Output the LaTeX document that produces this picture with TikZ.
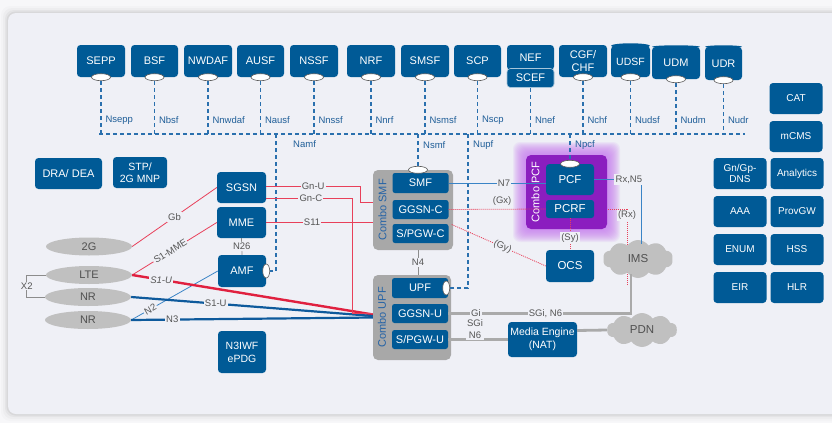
\documentclass[tikz,border=0pt]{standalone}
\usepackage{fontspec}
\setmainfont{Liberation Sans}
\usetikzlibrary{shapes.geometric,shapes.symbols,calc}
\definecolor{outerbg}{HTML}{F7F7F9}
\definecolor{panel}{HTML}{EFF0F6}
\definecolor{nfblue}{HTML}{005A96}
\definecolor{dashblue}{HTML}{2A70AE}
\definecolor{nlabblue}{HTML}{1F5E98}
\definecolor{lblgray}{HTML}{555555}
\definecolor{combogray}{HTML}{A8A8A8}
\definecolor{combotxt}{HTML}{2563A6}
\definecolor{rangray}{HTML}{C0C0C0}
\definecolor{rantext}{HTML}{505050}
\definecolor{redl}{HTML}{E8405A}
\definecolor{redk}{HTML}{E0203F}
\definecolor{blk}{HTML}{0E5A9C}
\definecolor{bll}{HTML}{3A84C6}
\definecolor{grl}{HTML}{AAAAAA}
\definecolor{pcfpurple}{HTML}{8B1EBF}
\definecolor{glowc}{HTML}{C77BEF}
\pgfdeclarelayer{back}
\pgfdeclarelayer{bg}
\pgfsetlayers{back,bg,main}
\begin{document}
\begin{tikzpicture}[x=1pt,y=-1pt,
 nf/.style={rectangle, rounded corners=3.5pt, fill=nfblue, text=white, inner sep=0pt, align=center, font=\fontsize{11}{12.5}\selectfont, minimum width=48pt, minimum height=32pt},
 inbox/.style={nf, minimum width=56pt, minimum height=19pt, rounded corners=2.5pt},
 rbox/.style={nf, minimum width=53pt, minimum height=31pt, font=\fontsize{10}{11.5}\selectfont},
 port/.style={ellipse, fill=white, draw=black!65, line width=0.6pt, inner sep=0pt, minimum width=19pt, minimum height=7pt},
 vport/.style={port, minimum width=7pt, minimum height=14pt},
 dsh/.style={draw=dashblue, line width=1.1pt, dash pattern=on 4pt off 3pt},
 nlab/.style={text=nlabblue, font=\fontsize{9.5}{11}\selectfont, inner sep=0pt},
 lbl/.style={fill=panel, inner sep=1.2pt, text=lblgray, font=\fontsize{9.5}{11}\selectfont},
 combo/.style={rectangle, rounded corners=5pt, fill=combogray, inner sep=0pt},
 ran/.style={ellipse, fill=rangray, text=rantext, inner sep=0pt, minimum width=86pt, minimum height=18pt, font=\fontsize{11}{12}\selectfont},
 cloudn/.style={cloud, cloud puffs=10, cloud puff arc=110, aspect=1.9, fill=rangray, text=rantext, inner sep=0pt, minimum width=70pt, minimum height=38pt, font=\fontsize{11.5}{12}\selectfont},
 redthin/.style={draw=redl, line width=0.8pt},
 redthick/.style={draw=redk, line width=2.4pt},
 reddot/.style={draw=redl, line width=0.8pt, dash pattern=on 1pt off 1pt},
 bluethick/.style={draw=blk, line width=2.2pt},
 bluethin/.style={draw=bll, line width=0.8pt},
 graythick/.style={draw=grl, line width=2.8pt},
 graythin/.style={draw=black!45, line width=0.7pt},
]
\useasboundingbox (0,0) rectangle (832,423);
\begin{pgfonlayer}{back}
\fill[outerbg] (0,0) rectangle (832,423);
\foreach \i/\o in {7/0.015,5/0.025,3/0.035,1.5/0.05}
  \fill[black, opacity=\o, rounded corners=9pt] (8-\i,13-\i) rectangle (848+\i,414+\i);
\fill[panel, rounded corners=8pt] (8,13) rectangle (848,414);
\foreach \i in {1,...,13}
  \fill[glowc, opacity=0.11, rounded corners=7pt] (526-\i,155-\i) rectangle (607+\i,229+\i);
\end{pgfonlayer}

% ---------- top NFs ----------
\coordinate (busL) at (99,134);
\coordinate (busR) at (745,134);
\draw[dsh] (busL) -- (busR);
\foreach \n/\x/\w/\t/\l in {sepp/101/48/SEPP/Nsepp, bsf/154.5/47/BSF/Nbsf, nwdaf/208/48/NWDAF/Nnwdaf, ausf/260.5/47/AUSF/Nausf, nssf/314/48/NSSF/Nnssf, nrf/371/48/NRF/Nnrf, smsf/425/48/SMSF/Nsmsf, scp/477.5/47/SCP/Nscp}{
  \node[nf, minimum width=\w pt] (\n) at (\x,61) {\t};
  \node[port] (\n-p) at (\n.south) {};
  \draw[dsh] (\n-p.south) -- (\n-p.south |- busL) ++(4,-14) node[nlab, anchor=west] {\l};
}
\node[nf, minimum width=48pt] (chf) at (583,61) {CGF/\\CHF};
\node[port] (chf-p) at (chf.south) {};
\draw[dsh] (chf-p.south) -- (chf-p.south |- busL) ++(4,-14) node[nlab, anchor=west] {Nchf};

\node[nf, minimum width=47pt, minimum height=25pt] (nef) at (530.5,57.5) {NEF};
\node[nf, minimum width=47pt, minimum height=19pt, draw=white!65!nfblue, line width=0.6pt] (scef) at (530.5,78) {SCEF};
\draw[dsh] (scef.south) -- (scef.south |- busL) ++(4,-14) node[nlab, anchor=west] {Nnef};

\node[nf, minimum width=39pt, minimum height=31pt, font=\fontsize{10.5}{12}\selectfont] (udsf) at (630.5,61.5) {UDSF};
\fill[nfblue] (udsf.north) ellipse [x radius=19.5pt, y radius=2.5pt];
\node[nf, minimum width=48pt, minimum height=32pt] (udm) at (676,63) {UDM};
\fill[nfblue] (udm.north) ellipse [x radius=24pt, y radius=1.5pt];
\node[nf, minimum width=37pt, minimum height=33pt] (udr) at (723.5,63.5) {UDR};
\fill[nfblue] (udr.north) ellipse [x radius=18.5pt, y radius=1.5pt];
\foreach \n/\l in {udsf/Nudsf, udm/Nudm, udr/Nudr}{
  \node[port] (\n-p) at (\n.south) {};
  \draw[dsh] (\n-p.south) -- (\n-p.south |- busL) ++(4,-14) node[nlab, anchor=west] {\l};
}

% ---------- left side ----------
\node[nf, minimum width=67pt, minimum height=31pt] (dra) at (68.5,173.5) {DRA/ DEA};
\node[nf, minimum width=54pt, minimum height=31pt, font=\fontsize{10.5}{12}\selectfont] (stp) at (140,172.5) {STP/\\2G MNP};
\node[nf, minimum width=49pt, minimum height=31pt] (sgsn) at (241.5,187.5) {SGSN};
\node[nf, minimum width=49pt, minimum height=31pt] (mme) at (241.5,222.5) {MME};
\node[nf, minimum width=48pt, minimum height=32pt] (amf) at (242,271) {AMF};
\node[nf, minimum width=48pt, minimum height=42pt, font=\fontsize{10.5}{13}\selectfont] (n3iwf) at (242,352) {N3IWF\\ePDG};
\node[vport] (amf-p) at (amf.east) {};

\node[ran] (g2) at (89,246.5) {2G};
\node[ran] (lte) at (89,275) {LTE};
\node[ran] (nr1) at (88,297) {NR};
\node[ran] (nr2) at (88,320) {NR};

% ---------- combo SMF / UPF / PCF ----------
\node[combo, minimum width=80pt, minimum height=80pt] (csmf) at (413,210) {};
\node[rotate=90, text=combotxt, font=\fontsize{11}{12}\selectfont, inner sep=0pt] (csmfl) at (382.5,210) {Combo SMF};
\node[inbox, minimum height=20pt] (smf) at (420.5,183) {SMF};
\node[inbox] (ggsnc) at (420.5,209.5) {GGSN-C};
\node[inbox] (spgwc) at (420.5,233.5) {S/PGW-C};
\node[port] (smf-p) at ($(csmf.north)+(5,0)$) {};

\node[combo, minimum width=78pt, minimum height=85pt] (cupf) at (412,317.5) {};
\node[rotate=90, text=combotxt, font=\fontsize{11}{12}\selectfont, inner sep=0pt] (cupfl) at (382,317.5) {Combo UPF};
\node[inbox, minimum height=20pt] (upf) at (420,288) {UPF};
\node[inbox] (ggsnu) at (420,313.5) {GGSN-U};
\node[inbox] (spgwu) at (420,339.5) {S/PGW-U};
\node[vport] (upf-p) at ($(upf.east)+(-2,0)$) {};

\node[rectangle, rounded corners=5pt, fill=pcfpurple, minimum width=81pt, minimum height=74pt, inner sep=0pt] (cpcf) at (566.5,192) {};
\node[rotate=90, text=white, font=\fontsize{11}{12}\selectfont, inner sep=0pt] (cpcfl) at (535.5,192) {Combo PCF};
\node[nf, minimum width=48pt, minimum height=31pt, font=\fontsize{11.5}{13}\selectfont] (pcf) at (570,179.5) {PCF};
\node[nf, minimum width=48pt, minimum height=18pt, rounded corners=2.5pt, font=\fontsize{11.5}{13}\selectfont] (pcrf) at (570,209) {PCRF};
\node[port] (pcf-p) at (pcf.north) {};

\node[nf, minimum width=48pt, minimum height=32pt, font=\fontsize{11.5}{13}\selectfont] (ocs) at (570,266) {OCS};
\node[nf, minimum width=69pt, minimum height=35pt, font=\fontsize{10.5}{13}\selectfont] (me) at (542.5,339.5) {Media Engine\\(NAT)};
\node[cloudn] (ims) at (638,259) {IMS};
\node[cloudn, minimum height=34pt] (pdn) at (642,330) {PDN};

% ---------- right side ----------
\node[rbox] (cat) at (796,98.5) {CAT};
\node[rbox] (mcms) at (796,136.5) {mCMS};
\node[rbox] (dns) at (740,173.5) {Gn/Gp-\\DNS};
\node[rbox] (ana) at (797,173.5) {Analytics};
\node[rbox] (aaa) at (740,211.5) {AAA};
\node[rbox] (prov) at (797,211.5) {ProvGW};
\node[rbox] (enum) at (740,249.5) {ENUM};
\node[rbox] (hss) at (797,249.5) {HSS};
\node[rbox] (eir) at (740,287.5) {EIR};
\node[rbox] (hlr) at (797,287.5) {HLR};

% ---------- SBI links below the bus ----------
\coordinate (namfj) at (276,134);
\coordinate (nsmfj) at (418,134);
\coordinate (nupfj) at (468,134);
\coordinate (npcfj) at (570,134);
\draw[dsh] (namfj) |- (amf-p.east);
\path (namfj) ++(17,10) node[nlab, anchor=west] {Namf};
\draw[dsh] (nsmfj) -- (smf-p.north);
\path (nsmfj) ++(5,11) node[nlab, anchor=west] {Nsmf};
\draw[dsh] (nupfj) |- (upf-p.east);
\path (nupfj) ++(5,11) node[nlab, anchor=west] {Nupf};
\draw[dsh] (npcfj) -- (pcf-p.north);
\path (npcfj) ++(5,11) node[nlab, anchor=west] {Npcf};

% ---------- RAN links ----------
\draw[graythin] (lte.west) -- ++(-19,0) |- node[lbl, pos=0.25, inner sep=0.5pt] {X2} (nr1.west);
\draw[redthin] (g2.east) -- node[lbl] {Gb} (sgsn.west);
\draw[redthin] (lte.east) -- node[lbl, sloped, pos=0.45] {S1-MME} (mme.west);
\draw[bluethin] (nr2.east) -- node[lbl, sloped, pos=0.22] {N2} (amf.west);
\draw[redthick] (lte.east) -- node[lbl, pos=0.12, font=\fontsize{9.5}{11}\selectfont\itshape] {S1-U} ($(cupf.west)+(0,-3)$);
\draw[bluethick] (nr1.east) -- node[lbl, pos=0.35] {S1-U} ($(cupf.west)+(0,-1.5)$);
\draw[bluethick] (nr2.east) -- node[lbl, pos=0.17] {N3} (cupf.west);

% ---------- core links ----------
\draw[redthin] ($(sgsn.east)+(0,-1)$) -- node[lbl] {Gn-U} ++(94,0) |- ($(csmf.west)+(0,-8)$);
\draw[redthin] ($(sgsn.east)+(0,11)$) -- node[lbl, pos=0.52] {Gn-C} ++(86,0) |- ($(cupf.west)+(0,-4.5)$);
\draw[redthin] (mme.east) -- node[lbl, pos=0.43] {S11} (csmf.west |- mme.east);
\draw[graythin] (mme.south) -- node[lbl] {N26} (amf.north);
\draw[graythin] ($(csmf.south)+(5,0)$) -- node[lbl] {N4} ($(cupf.north)+(6,0)$);
\draw[bluethin] (smf.east) -- node[lbl, pos=0.57] {N7} (smf.east -| pcf.west);
\draw[bluethin] (pcf.east) -| node[lbl, pos=0.37] {Rx,N5} ($(ims.north)+(3,4)$);
\draw[reddot] (ggsnc.east) -- node[lbl, pos=0.55, yshift=8pt, fill=none] {(Gx)} (pcrf.west);
\draw[reddot] (pcrf.south) -- node[lbl, pos=0.62] {(Sy)} (ocs.north);
\draw[reddot] ($(spgwc.east)+(3,-9)$) -- node[lbl, sloped, pos=0.54] {(Gy)} (ocs.west);
\begin{pgfonlayer}{bg}
\draw[reddot] (pcrf.east) -| node[lbl, pos=0.54] {(Rx)} ($(ims.south)+(-11,8)$);
\end{pgfonlayer}
\draw[graythick] (ggsnu.east) -| node[lbl, pos=0.076] {Gi} node[lbl, pos=0.266] {SGi, N6} ($(ims.south)+(-7,-4)$);
\draw[graythick] (spgwu.east) -- node[lbl, pos=0.45, align=center, yshift=10pt, font=\fontsize{9.5}{12}\selectfont] {SGi\\N6} (me.west);
\draw[graythick] ($(me.east)+(0,-9)$) -- (pdn.west);
\end{tikzpicture}
\end{document}
